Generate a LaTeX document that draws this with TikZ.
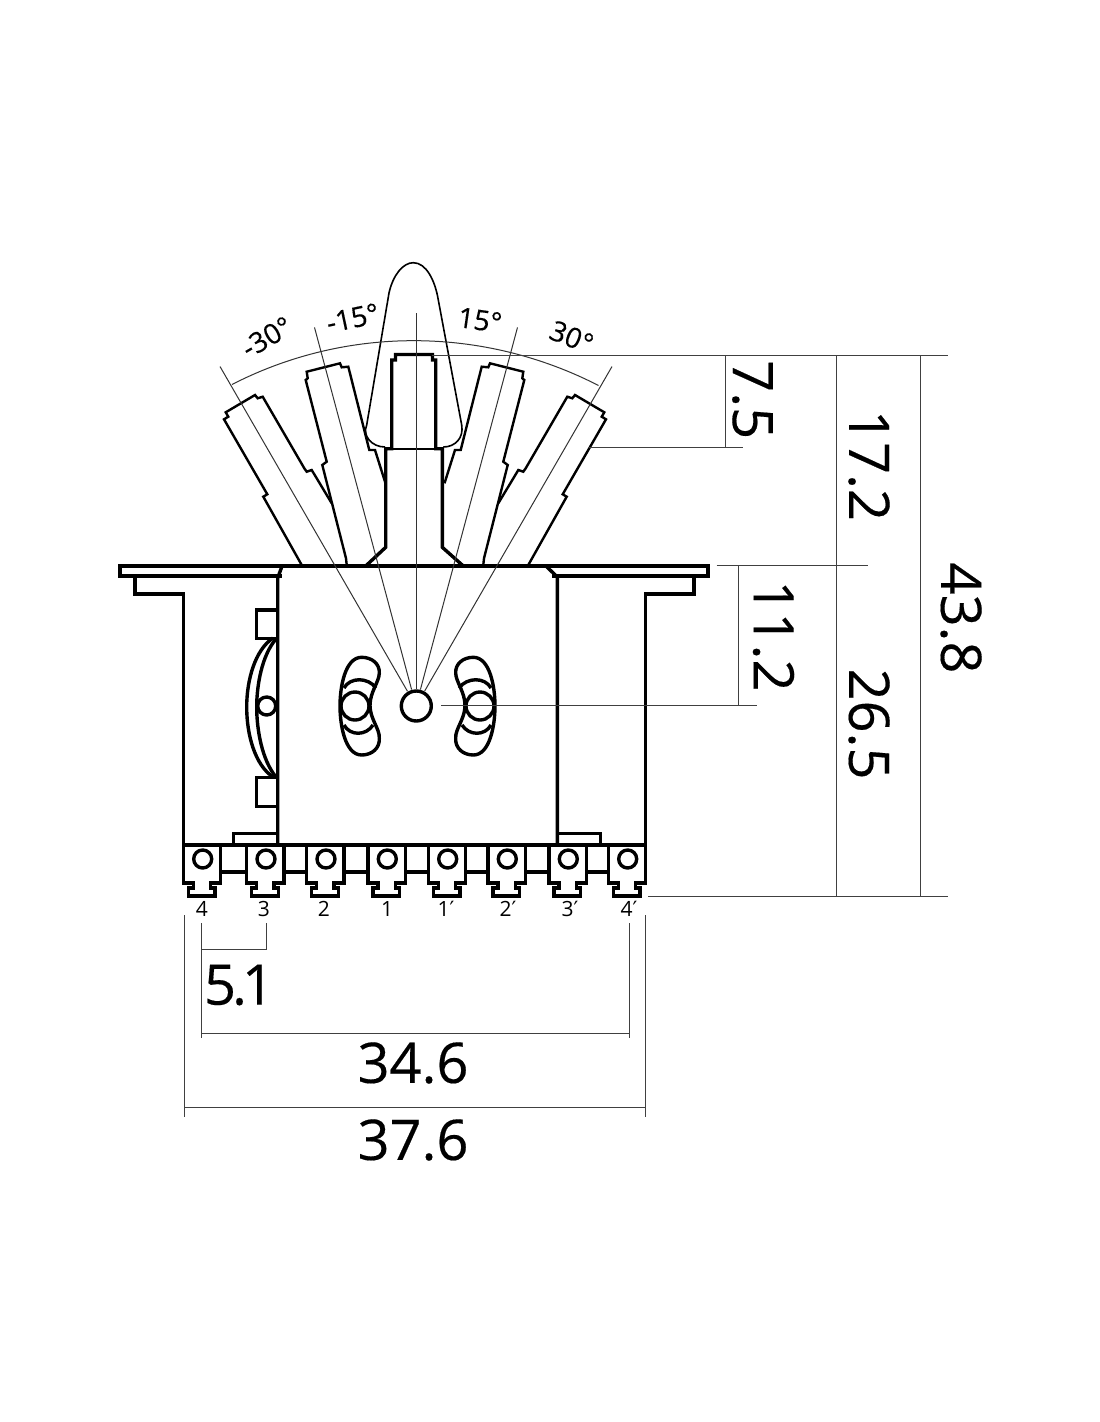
\documentclass[tikz,border=0pt]{standalone}
\usepackage{fontspec}
\setmainfont{Open Sans}
\newfontfamily\numfont[FakeBold=0.3]{Open Sans}
\newfontfamily\primefont{DejaVu Sans}
\newcommand{\prm}{{\primefont ′}}
\tikzset{
  heavy/.style={line width=3.4pt,black,line join=miter},
  medium/.style={line width=2.4pt,black,line join=miter},
  fine/.style={line width=1.6pt,black},
  dim/.style={line width=1pt,black!75},
  radial/.style={line width=1pt,black!80},
  bignum/.style={font=\numfont\fontsize{56}{56}\selectfont,inner sep=0pt},
  anglab/.style={font=\numfont\fontsize{28}{28}\selectfont,inner sep=0pt},
  termlab/.style={font=\fontsize{21}{21}\selectfont,inner sep=0pt}
}
\begin{document}
\begin{tikzpicture}[x=1pt,y=-1pt]
\useasboundingbox (0,0) rectangle (1100,1422);
\fill[white] (0,0) rectangle (1100,1422);
% side levers
\foreach \m/\s in {1pt/0pt,-1pt/830pt}{
\begin{scope}[x=\m,xshift=\s]
\draw[medium] (301.7,565)--(263.3,496.7)--(267.3,494.3)--(224,419.3)--(228.3,416.7)--(225.7,412.3)--(255,395)--(257.7,398.3)--(262.7,396.7)--(304.3,468.3)--(306.7,471.7)--(311.7,470)--(331.7,503.3);
\draw[medium] (346.7,565)--(346,558.3)--(322.3,465)--(326.7,461.7)--(305.7,380)--(307.7,378.3)--(306.7,371.7)--(340,363.3)--(341.7,367.3)--(348.3,366.7)--(369.3,450)--(375,450)--(385.5,483.3);
\end{scope}}
% centre lever
\draw[heavy] (365.7,566)--(385.7,547.3)--(385.7,448.7)--(391.7,448.7)--(391.7,360)--(395.5,360)--(395.5,354.5)--(432.5,354.5)--(432.5,360)--(435.7,360)--(435.7,448.7)--(442.3,448.7)--(442.3,547.3)--(463.3,566);
\draw[medium] (391.7,448.7)--(435.7,448.7);
% bat
\draw[fine] (385,447) .. controls (372,447) and (362,436) .. (366.7,425) -- (389,293) .. controls (393,275) and (403,262.7) .. (413.3,262.7) .. controls (426,262.7) and (435,280) .. (438.3,300) -- (461.7,425) .. controls (464,438) and (455,447) .. (443.3,447);
% plate
\draw[heavy] (281.7,576)--(120,576)--(120,566)--(708,566)--(708,576)--(551.7,576);
% housing
\draw[heavy] (281.7,567)--(277.7,578)--(277.7,845);
\draw[heavy] (546.7,566.7)--(557.3,577)--(557.3,845);
\draw[heavy] (135,576)--(135,594)--(183.3,594)--(183.3,845);
\draw[heavy] (694,576)--(694,594)--(645.7,594)--(645.7,845);
\draw[heavy] (183.3,845)--(645.7,845);
\draw[heavy] (233.3,845)--(233.3,833.3)--(277.7,833.3);
\draw[heavy] (557.3,833.3)--(600.7,833.3)--(600.7,845);
% clip and spring
\draw[heavy] (277.7,610)--(256.7,610)--(256.7,638.3)--(277.7,638.3);
\draw[heavy] (277.7,777.3)--(256.7,777.3)--(256.7,806.7)--(277.7,806.7);
\draw[heavy] (273,638) .. controls (255,650) and (246.7,680) .. (246.7,707) .. controls (246.7,735) and (255,765) .. (273,777);
\draw[heavy] (276,639) .. controls (262,655) and (256.7,685) .. (256.7,707) .. controls (256.7,730) and (262,760) .. (276,777);
\draw[heavy] (266.7,706) circle[radius=9];
% pivot
\draw[heavy] (416.3,706) circle[radius=15];
% slots
\foreach \m/\s in {1pt/0pt,-1pt/835pt}{
\begin{scope}[x=\m,xshift=\s]
\draw[heavy] (361.7,657.3) .. controls (372,657.3) and (380,664) .. (379.3,673.3) .. controls (379,682) and (370,692) .. (370,705.5) .. controls (370,719) and (380,729) .. (379.3,738.3) .. controls (380,748) and (372,755) .. (361.7,755) .. controls (345,755) and (340,725) .. (340,706) .. controls (340,687) and (345,657.3) .. (361.7,657.3) -- cycle;
\draw[heavy] (355,706) circle[radius=14];
\draw[heavy] (344,688) .. controls (350,677) and (368,677) .. (376,688);
\draw[heavy] (344,725) .. controls (350,736) and (366,736) .. (373,725);
\end{scope}}
% terminals
\foreach \c in {202.7,266,326,387.3,447.7,507.3,568.3,627.7}{
\draw[heavy] (\c-19.3,845)--(\c-19.3,883)--(\c-9.3,883)--(\c-9.3,888)--(\c-14.3,888)--(\c-14.3,896)--(\c+12.4,896)--(\c+12.4,888)--(\c+8,888)--(\c+8,883)--(\c+18,883)--(\c+18,845);
\draw[heavy] (\c,859) circle[radius=9];
}
\foreach \a/\b in {220.7/246.7,284/306.7,344/368,405.3/428.4,465.7/488,525.3/549,586.3/608.4}{
\draw[heavy] (\a,872)--(\b,872);
}
% radial lines
\draw[radial] (407.5,691.3)--(220,366.5);
\draw[radial] (411.6,689.6)--(314.5,327.4);
\draw[radial] (416,689)--(416,313);
\draw[radial] (420.4,689.6)--(517.5,327.4);
\draw[radial] (424.5,691.3)--(612,366.5);
\draw[radial] (232,384.5) .. controls (347,325.4) and (483.5,326.4) .. (598.5,385.5);
% dimension lines
\draw[dim] (432,355)--(948,355);
\draw[dim] (588,447)--(743,447);
\draw[dim] (725,355)--(725,447);
\draw[dim] (716.5,565.5)--(868,565.5);
\draw[dim] (441,705.5)--(757,705.5);
\draw[dim] (738.5,565.5)--(738.5,705.5);
\draw[dim] (836,355)--(836,896);
\draw[dim] (920,355)--(920,896);
\draw[dim] (648,896)--(948,896);
\draw[dim] (201.5,923)--(201.5,1038);
\draw[dim] (266.5,923)--(266.5,949.5)--(201.5,949.5);
\draw[dim] (629,923)--(629,1038);
\draw[dim] (201.5,1033)--(629,1033);
\draw[dim] (184.5,915)--(184.5,1117);
\draw[dim] (645.7,915)--(645.7,1117);
\draw[dim] (184.5,1107)--(645.7,1107);
% labels
\node[bignum,rotate=-90] (d438) at (961,618) {43.8};
\node[bignum,rotate=-90] (d172) at (869,465.5) {17.2};
\node[bignum,rotate=-90] (d265) at (869,724) {26.5};
\node[bignum,rotate=-90] (d75) at (752.5,399.7) {7.5};
\node[bignum,rotate=-90] (d112) at (773.5,636) {11.2};
\node[bignum] (d51) at (239,985) {5\kern-4pt.\kern-5pt1};
\node[bignum] (d346) at (413,1063) {34.6};
\node[bignum] (d376) at (413,1140) {37.6};
\node[anglab,rotate=30] (am30) at (266.7,337) {-30°};
\node[anglab,rotate=12] (am15) at (352.7,318) {-15°};
\node[anglab,rotate=-8] (ap15) at (480,320) {15°};
\node[anglab,rotate=-22] (ap30) at (571.7,337) {30°};
\foreach \x/\t/\n in {202/4/a,264/3/b,324/2/c,387/1/d,446/1\prm/e,508/2\prm/f,570/3\prm/g,629/4\prm/h}{
\node[termlab] (t\n) at (\x,909) {\t};
}
\end{tikzpicture}
\end{document}
